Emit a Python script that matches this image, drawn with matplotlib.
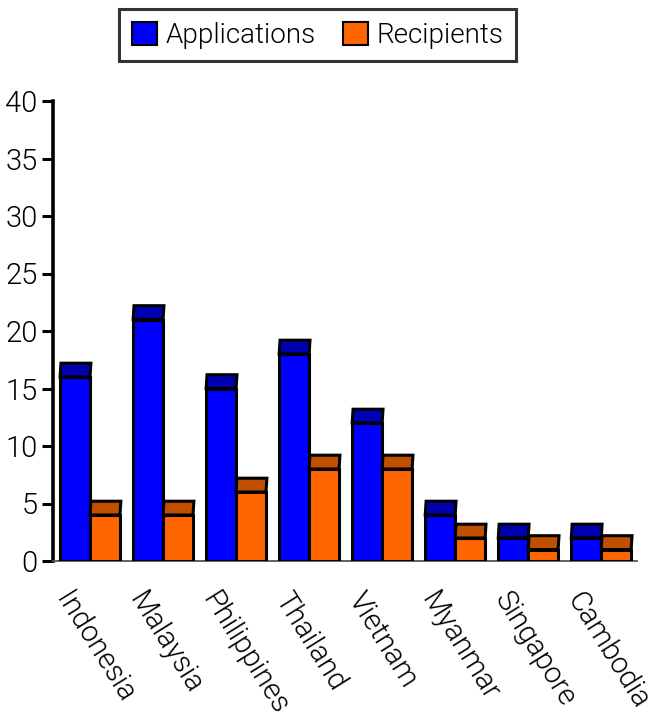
import matplotlib
matplotlib.use("Agg")
import matplotlib.pyplot as plt
from matplotlib.patches import Patch, Polygon, Rectangle

countries = ["Indonesia", "Malaysia", "Philippines", "Thailand",
             "Vietnam", "Myanmar", "Singapore", "Cambodia"]
applications = [16, 21, 15, 18, 12, 4, 2, 2]
recipients = [4, 4, 6, 8, 8, 2, 1, 1]

BLUE, BLUE_TOP = "#0000ff", "#0000b0"
ORANGE, ORANGE_TOP = "#ff6600", "#c04f00"
plt.rcParams["font.family"] = ["Roboto", "DejaVu Sans"]
plt.rcParams["font.weight"] = 300

W = 0.41      # bar width in group units
CAP = 1.2     # height of the pseudo-3D top face
SLANT = 0.012

fig = plt.figure(figsize=(6.63, 7.19), dpi=100)
ax = fig.add_axes([53 / 663, 1 - 561 / 719, 584 / 663, 460 / 719])


def bar3d(x0, val, face, top):
    ax.add_patch(Rectangle((x0, 0), W, val, facecolor=face,
                           edgecolor="black", lw=2.2, zorder=3))
    cap = [(x0, val), (x0 + W, val), (x0 + W + SLANT, val + CAP),
           (x0 + SLANT, val + CAP)]
    ax.add_patch(Polygon(cap, closed=True, facecolor=top,
                         edgecolor="black", lw=2.2, zorder=3))


for i, (a, r) in enumerate(zip(applications, recipients)):
    bar3d(i - W, a, BLUE, BLUE_TOP)
    bar3d(i, r, ORANGE, ORANGE_TOP)

ax.set_xlim(-0.507, 7.49)
ax.set_ylim(0, 40)
ax.set_yticks(range(0, 41, 5))
ax.tick_params(axis="y", direction="out", length=8, width=2.2,
               labelsize=21, pad=3, labelcolor="black")
ax.set_xticks([])
for s in ("top", "right"):
    ax.spines[s].set_visible(False)
ax.spines["left"].set_linewidth(2.6)
ax.spines["bottom"].set_linewidth(1.3)
ax.spines["bottom"].set_color("#555555")

for i, name in enumerate(countries):
    ax.text(i - W + 0.19, -2.3, name, rotation=-58, rotation_mode="anchor",
            ha="left", va="top", fontsize=21, color="black")

handles = [Patch(facecolor=BLUE, edgecolor="black", lw=1.5, label="Applications"),
           Patch(facecolor=ORANGE, edgecolor="black", lw=1.5, label="Recipients")]
leg = fig.legend(handles=handles, loc="center", bbox_to_anchor=(0.479, 0.951),
                 ncol=2, fontsize=20, fancybox=False, handlelength=0.9,
                 handleheight=0.9, handletextpad=0.3, columnspacing=1.0,
                 borderpad=0.45)
leg.get_frame().set_edgecolor("black")
leg.get_frame().set_linewidth(2.2)

fig.savefig("out.png", dpi=100)
